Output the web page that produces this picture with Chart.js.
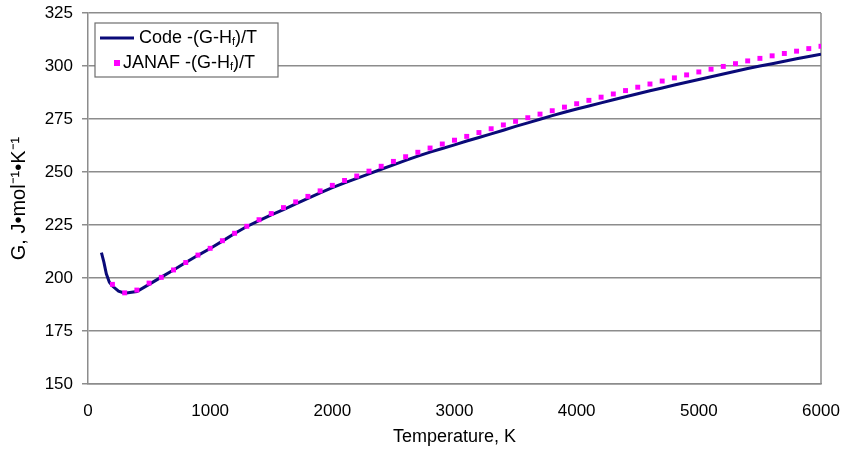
<!DOCTYPE html>
<html>
<head>
<meta charset="utf-8">
<script src="https://cdn.jsdelivr.net/npm/chart.js@4/dist/chart.umd.min.js"></script>
<style>
body { margin: 0; background: #fff; }
#wrap { width: 843px; height: 451px; position: relative; }
</style>
</head>
<body>
<div id="wrap"><canvas id="GibbsChart"></canvas></div>
<script>
// values
const seriesNames = ['Code -(G-H_f)/T', 'JANAF -(G-H_f)/T'];

const codeT = [110, 130, 150, 175, 200, 250, 300, 400, 500, 600, 700, 800, 900,
  1000, 1100, 1200, 1300, 1400, 1500, 1600, 1700, 1800, 1900,
  2000, 2100, 2200, 2300, 2400, 2500, 2600, 2700, 2800, 2900,
  3000, 3100, 3200, 3300, 3400, 3500, 3600, 3700, 3800, 3900,
  4000, 4100, 4200, 4300, 4400, 4500, 4600, 4700, 4800, 4900,
  5000, 5100, 5200, 5300, 5400, 5500, 5600, 5700, 5800, 5900, 6000];
const codeG = [212.0, 207.5, 202.0, 198.0, 196.2, 193.8, 192.8, 193.6, 197.0, 200.4, 203.8, 207.3, 210.7,
  213.9, 217.4, 221.0, 224.3, 227.1, 229.8, 232.3, 235.0, 237.6, 240.2,
  242.6, 244.9, 247.0, 249.1, 251.3, 253.4, 255.5, 257.5, 259.4, 261.1,
  262.8, 264.6, 266.3, 268.0, 269.7, 271.5, 273.2, 274.9, 276.6, 278.2,
  279.7, 281.1, 282.6, 284.1, 285.5, 286.9, 288.3, 289.6, 291.0, 292.3,
  293.6, 294.9, 296.2, 297.5, 298.8, 300.0, 301.1, 302.2, 303.4, 304.5, 305.5];

const janafT = [200, 300, 400, 500, 600, 700, 800, 900,
  1000, 1100, 1200, 1300, 1400, 1500, 1600, 1700, 1800, 1900,
  2000, 2100, 2200, 2300, 2400, 2500, 2600, 2700, 2800, 2900,
  3000, 3100, 3200, 3300, 3400, 3500, 3600, 3700, 3800, 3900,
  4000, 4100, 4200, 4300, 4400, 4500, 4600, 4700, 4800, 4900,
  5000, 5100, 5200, 5300, 5400, 5500, 5600, 5700, 5800, 5900, 6000];
const janafG = [197.0, 193.0, 194.3, 197.6, 200.3, 203.8, 207.3, 210.8,
  214.0, 217.6, 221.1, 224.4, 227.5, 230.4, 233.2, 235.9, 238.5, 241.1,
  243.7, 246.0, 248.1, 250.4, 252.7, 255.0, 257.2, 259.3, 261.3, 263.2,
  265.0, 266.8, 268.6, 270.4, 272.2, 273.9, 275.6, 277.3, 278.9, 280.6,
  282.2, 283.8, 285.3, 286.8, 288.4, 290.0, 291.5, 292.9, 294.4, 295.8,
  297.2, 298.5, 299.8, 301.1, 302.4, 303.6, 304.8, 305.9, 307.0, 308.2, 309.3];

const xMin = 0, xMax = 6000, xStep = 1000;
const yMin = 150, yMax = 325, yStep = 25;

const fontFamily = '"Liberation Sans", Arial, sans-serif';
const codeColor = 'rgb(10, 10, 120)';
const janafColor = 'rgb(255, 0, 255)';
const gridColor = 'rgb(140, 140, 140)';

// right side of the plot frame
const frame = {
    id: 'frame',
    beforeDatasetsDraw(chart) {
        const a = chart.chartArea;
        const ctx = chart.ctx;
        ctx.save();
        ctx.strokeStyle = gridColor;
        ctx.lineWidth = 1.5;
        ctx.beginPath();
        ctx.moveTo(a.right, a.top);
        ctx.lineTo(a.right, a.bottom);
        ctx.stroke();
        ctx.restore();
    }
};

// legend box with subscript f
function drawName(ctx, name, x, y) {
    const parts = name.split('_f');
    ctx.textBaseline = 'middle';
    ctx.textAlign = 'left';
    ctx.font = '18px ' + fontFamily;
    ctx.fillText(parts[0], x, y);
    x += ctx.measureText(parts[0]).width;
    ctx.font = '11px ' + fontFamily;
    ctx.fillText('f', x, y + 4);
    x += ctx.measureText('f').width;
    ctx.font = '18px ' + fontFamily;
    ctx.fillText(parts[1], x, y);
}

const boxLegend = {
    id: 'boxLegend',
    afterDatasetsDraw(chart) {
        const a = chart.chartArea;
        const ctx = chart.ctx;
        const bx = a.left + 7, by = a.top + 10, bw = 183, bh = 54;
        ctx.save();
        ctx.fillStyle = '#fff';
        ctx.fillRect(bx, by, bw, bh);
        ctx.strokeStyle = 'rgb(110, 110, 110)';
        ctx.lineWidth = 1.2;
        ctx.strokeRect(bx, by, bw, bh);

        // code line sample
        const y1 = by + 15, y2 = by + 40;
        ctx.strokeStyle = codeColor;
        ctx.lineWidth = 3;
        ctx.beginPath();
        ctx.moveTo(bx + 5, y1);
        ctx.lineTo(bx + 39, y1);
        ctx.stroke();
        ctx.fillStyle = '#000';
        drawName(ctx, seriesNames[0], bx + 44, y1);

        // JANAF marker sample
        ctx.fillStyle = janafColor;
        ctx.fillRect(bx + 19, y2 - 3, 6, 6);
        ctx.fillStyle = '#000';
        drawName(ctx, seriesNames[1], bx + 28, y2);
        ctx.restore();
    }
};

const codeData = codeT.map((t, i) => ({ x: t, y: codeG[i] }));
const janafData = janafT.map((t, i) => ({ x: t, y: janafG[i] }));

const config = {
    type: 'scatter',
    data: {
        datasets: [{
            label: seriesNames[0].replace('_f', 'f'),
            data: codeData,
            showLine: true,
            borderColor: codeColor,
            borderWidth: 3,
            pointRadius: 0,
            tension: 0,
            order: 1
        }, {
            label: seriesNames[1].replace('_f', 'f'),
            data: janafData,
            showLine: false,
            pointStyle: 'rect',
            pointRadius: 3.5,
            backgroundColor: janafColor,
            borderWidth: 0,
            order: 0
        }]
    },
    options: {
        responsive: true,
        maintainAspectRatio: false,
        animation: false,
        layout: {
            padding: { top: 13, right: 22, left: 0, bottom: 0 }
        },
        plugins: {
            legend: { display: false },
            tooltip: { enabled: false }
        },
        scales: {
            x: {
                type: 'linear',
                min: xMin,
                max: xMax,
                grid: { display: false },
                border: { display: true, color: gridColor, width: 1.5 },
                ticks: {
                    stepSize: xStep,
                    color: '#000',
                    padding: 9,
                    maxRotation: 0,
                    font: { family: fontFamily, size: 17 },
                    callback: (v) => String(v)
                },
                title: {
                    display: true,
                    text: 'Temperature, K',
                    color: '#000',
                    padding: { top: 0, bottom: 3 },
                    font: { family: fontFamily, size: 18 }
                },
                afterFit(scale) {
                    scale.height = 67;
                    scale.paddingLeft = 0;
                    scale.paddingRight = 0;
                }
            },
            y: {
                min: yMin,
                max: yMax,
                grid: {
                    color: gridColor,
                    lineWidth: 1.5,
                    tickLength: 6
                },
                border: { display: true, color: gridColor, width: 1.5 },
                ticks: {
                    stepSize: yStep,
                    color: '#000',
                    padding: 9,
                    font: { family: fontFamily, size: 17 }
                },
                title: {
                    display: true,
                    text: 'G, J•mol⁻¹•K⁻¹',
                    color: '#000',
                    padding: { top: 7, bottom: 0 },
                    font: { family: fontFamily, size: 20 }
                },
                afterFit(scale) {
                    scale.width = 88;
                    scale.paddingTop = 0;
                    scale.paddingBottom = 0;
                }
            }
        }
    },
    plugins: [frame, boxLegend]
};

const chart = new Chart(document.getElementById('GibbsChart'), config);
</script>
</body>
</html>
